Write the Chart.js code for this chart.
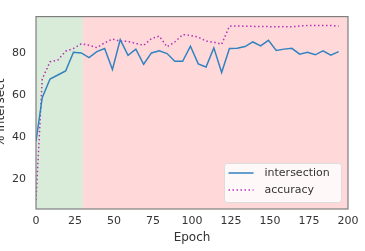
<!DOCTYPE html>
<html>
<head>
<meta charset="utf-8">
<script src="https://cdn.jsdelivr.net/npm/chart.js@4"></script>
<style>
  html, body { margin: 0; padding: 0; background: #ffffff; }
  #wrap { width: 365px; height: 251px; }
</style>
</head>
<body>
<div id="wrap"><canvas id="chart" width="365" height="251"></canvas></div>
<script>
// Training curves: intersection vs accuracy per epoch

const epochs = [0, 4, 9, 14, 19, 24, 29, 34, 39, 44, 49, 54, 59, 64, 69, 74, 79, 84, 89, 94,
    99, 104, 109, 114, 119, 124, 129, 134, 139, 144, 149, 154, 159, 164, 169, 174, 179, 184, 189, 194];

const intersection = [38, 58.7, 67.6, 69.5, 71.4, 80.3, 80, 77.8, 80.6, 82.1, 72.1, 86.3, 78.8, 81.8, 74.6, 80, 81, 79.7, 76, 76,
    83.2, 74.8, 73.3, 82.4, 70.7, 82.1, 82.2, 83, 85.2, 83.3, 86, 81.2, 81.8, 82.2, 79.4, 80.3, 79.1, 81, 78.9, 80.6];

const accuracy = [10, 67.6, 75.8, 76.6, 80.8, 82.1, 84.3, 83.6, 82.5, 84.8, 86.6, 85.5, 85.5, 84.5, 83.6, 86.8, 88, 82.9, 85.2, 88.7,
    88.3, 87.5, 85.6, 85.1, 84.1, 92.7, 92.8, 92.7, 92.6, 92.5, 92.5, 92.4, 92.5, 92.4, 92.8, 93.0, 93.0, 93.0, 93.0, 92.7];

const xTicks = [0, 25, 50, 75, 100, 125, 150, 175, 200];
const yTicks = [20, 40, 60, 80];

// shaded phases: [start, end]
const phaseSpans = [[0, 30], [30, 200]];
const phaseColors = ['rgba(0, 128, 0, 0.15)', 'rgba(255, 0, 0, 0.15)'];

const seriesNames = ['intersection', 'accuracy'];
const seriesColors = ['#3382c0', '#b530b5'];

const textColor = '#333333';
const spineColor = '#7f7f7f';

// background spans drawn under the lines
const spanPlugin = {
    id: 'spans',
    beforeDatasetsDraw(chart) {
        const { ctx, chartArea, scales } = chart;
        ctx.save();
        phaseSpans.forEach((span, i) => {
            const x0 = scales.x.getPixelForValue(span[0]);
            const x1 = scales.x.getPixelForValue(span[1]);
            ctx.fillStyle = phaseColors[i];
            ctx.fillRect(x0, chartArea.top, x1 - x0, chartArea.bottom - chartArea.top);
        });
        ctx.restore();
    }
};

// frame + legend in lower right corner
const framePlugin = {
    id: 'frame',
    afterDraw(chart) {
        const { ctx, chartArea } = chart;
        ctx.save();
        ctx.strokeStyle = spineColor;
        ctx.lineWidth = 1.2;
        ctx.strokeRect(chartArea.left, chartArea.top, chartArea.right - chartArea.left, chartArea.bottom - chartArea.top);

        // legend box
        const w = 117, h = 39;
        const bx = chartArea.right - 6.5 - w;
        const by = chartArea.bottom - 6.5 - h;
        ctx.beginPath();
        ctx.roundRect(bx, by, w, h, 3);
        ctx.fillStyle = 'rgba(255, 255, 255, 0.8)';
        ctx.fill();
        ctx.strokeStyle = '#dcdcdc';
        ctx.lineWidth = 1;
        ctx.stroke();

        ctx.font = '11px "DejaVu Sans"';
        ctx.textBaseline = 'middle';
        ctx.fillStyle = textColor;
        seriesNames.forEach((name, i) => {
            const y = by + 9.5 + i * 17;
            ctx.beginPath();
            ctx.strokeStyle = seriesColors[i];
            ctx.lineWidth = 1.5;
            ctx.setLineDash(i === 1 ? [1.5, 2.5] : []);
            ctx.moveTo(bx + 4, y);
            ctx.lineTo(bx + 29, y);
            ctx.stroke();
            ctx.setLineDash([]);
            ctx.fillText(name, bx + 40, y);
        });
        ctx.restore();
    }
};

const ctx = document.getElementById('chart').getContext('2d');
const chart = new Chart(ctx, {
    type: 'line',
    data: {
        datasets: [
            {
                label: seriesNames[0],
                data: epochs.map((e, i) => ({ x: e, y: intersection[i] })),
                borderColor: seriesColors[0],
                borderWidth: 1.5,
                pointRadius: 0,
                tension: 0,
                fill: false
            },
            {
                label: seriesNames[1],
                data: epochs.map((e, i) => ({ x: e, y: accuracy[i] })),
                borderColor: seriesColors[1],
                borderWidth: 1.5,
                borderDash: [1.5, 2.5],
                pointRadius: 0,
                tension: 0,
                fill: false
            }
        ]
    },
    options: {
        responsive: false,
        animation: false,
        events: [],
        layout: { padding: { top: 6, right: 17, left: 0, bottom: 0 } },
        plugins: {
            legend: { display: false },
            tooltip: { enabled: false }
        },
        scales: {
            x: {
                type: 'linear',
                min: 0,
                max: 200,
                afterBuildTicks: (scale) => { scale.ticks = xTicks.map(v => ({ value: v })); },
                afterFit: (scale) => { scale.height = 42; },
                grid: { display: false, drawTicks: false },
                border: { display: false },
                ticks: {
                    color: textColor,
                    padding: 6,
                    maxRotation: 0,
                    autoSkip: false,
                    font: { family: 'DejaVu Sans', size: 11 }
                },
                title: {
                    display: true,
                    text: 'Epoch',
                    color: textColor,
                    font: { family: 'DejaVu Sans', size: 12 },
                    padding: { top: 0, bottom: 6 }
                }
            },
            y: {
                type: 'linear',
                min: 5.85,
                max: 97.25,
                afterBuildTicks: (scale) => { scale.ticks = yTicks.map(v => ({ value: v })); },
                afterFit: (scale) => { scale.width = 36; },
                grid: { display: false, drawTicks: false },
                border: { display: false },
                ticks: {
                    color: textColor,
                    padding: 10,
                    autoSkip: false,
                    font: { family: 'DejaVu Sans', size: 11 }
                },
                title: {
                    display: true,
                    text: '% Intersect',
                    color: textColor,
                    font: { family: 'DejaVu Sans', size: 12 },
                    padding: { top: -6.5, bottom: 0 }
                }
            }
        }
    },
    plugins: [spanPlugin, framePlugin]
});
</script>
</body>
</html>
